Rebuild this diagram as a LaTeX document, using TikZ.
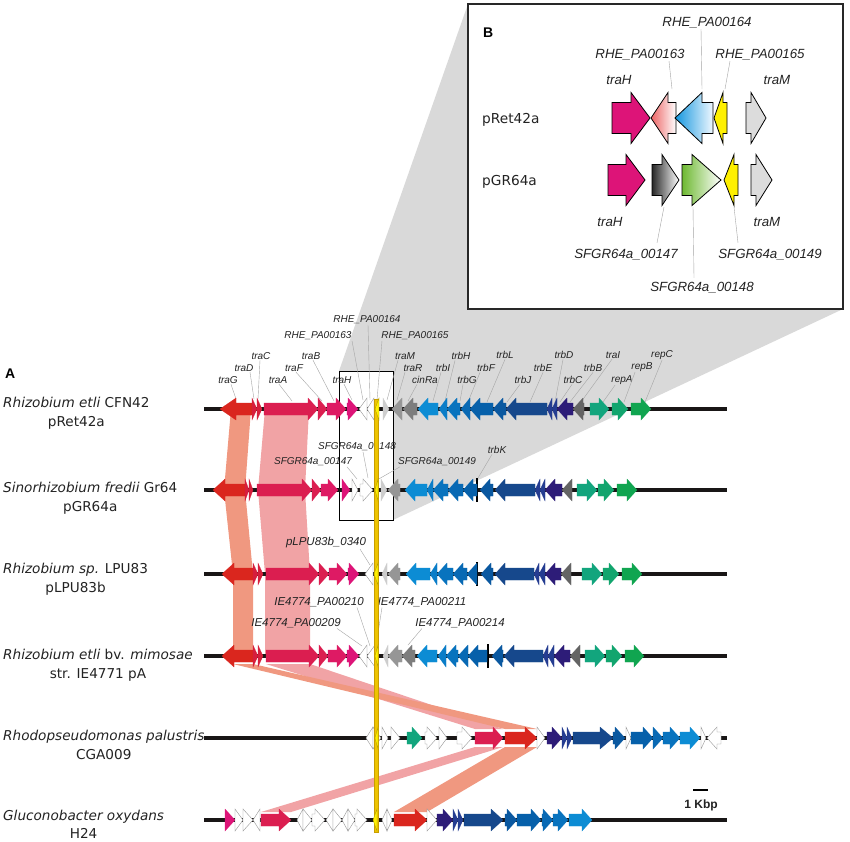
\documentclass[tikz,border=0pt]{standalone}
\usepackage{fontspec}
\setmainfont{DejaVu Sans}
\newfontfamily\ar{Liberation Sans}
\definecolor{cRed}{RGB}{218,38,30}
\definecolor{cRedS}{RGB}{214,30,60}
\definecolor{cCrim}{RGB}{219,30,80}
\definecolor{cCrimB}{RGB}{222,26,100}
\definecolor{cMag}{RGB}{221,20,120}
\definecolor{cYel}{RGB}{255,240,0}
\definecolor{cLG}{RGB}{205,205,205}
\definecolor{cG1}{RGB}{150,150,150}
\definecolor{cG2}{RGB}{125,125,125}
\definecolor{cG3}{RGB}{100,100,100}
\definecolor{cB1}{RGB}{12,140,212}
\definecolor{cB2}{RGB}{10,125,200}
\definecolor{cB3}{RGB}{8,115,190}
\definecolor{cB4}{RGB}{8,105,180}
\definecolor{cB5}{RGB}{6,96,170}
\definecolor{cB6}{RGB}{10,88,160}
\definecolor{cB7}{RGB}{22,72,140}
\definecolor{cB8}{RGB}{36,60,145}
\definecolor{cPur}{RGB}{45,28,120}
\definecolor{cGr1}{RGB}{18,165,125}
\definecolor{cGr2}{RGB}{18,165,110}
\definecolor{cGr3}{RGB}{16,165,80}
\definecolor{cSal}{RGB}{240,152,128}
\definecolor{cPink}{RGB}{241,163,165}
\definecolor{cWedge}{RGB}{217,217,217}
\definecolor{cGold}{RGB}{238,196,0}
\definecolor{cGoldE}{RGB}{200,158,0}
\definecolor{cTxt}{RGB}{35,35,35}
\definecolor{cWEdge}{RGB}{150,150,150}
\definecolor{cYEdge}{RGB}{170,150,0}
\definecolor{cRow}{RGB}{25,22,22}
\definecolor{cLead}{RGB}{165,165,165}
\definecolor{cFrame}{RGB}{40,40,40}
\definecolor{cIPink}{RGB}{236,100,100}
\definecolor{cIBlue}{RGB}{20,150,222}
\definecolor{cIBlueW}{RGB}{240,248,255}
\definecolor{cIDark}{RGB}{40,40,40}
\definecolor{cIGreen}{RGB}{110,185,50}
\definecolor{cILG}{RGB}{220,220,220}
\tikzset{
  gf/.style={fill=#1, draw=#1, line width=0.2pt},
  gw/.style={fill=white, draw=cWEdge, line width=0.4pt},
  gy/.style={fill=cYel, draw=cYEdge, line width=0.3pt},
  rowline/.style={line width=4.3pt, draw=cRow},
  barline/.style={line width=2.4pt, draw=black},
  leader/.style={draw=cLead, line width=0.4pt},
  lab/.style={font=\ar\itshape\fontsize{10}{12}\selectfont, inner sep=0.5pt, text=cTxt},
  labM/.style={font=\ar\itshape\fontsize{11.5}{13}\selectfont, inner sep=0.5pt, text=cTxt},
  labI/.style={font=\ar\itshape\fontsize{13.3}{15}\selectfont, inner sep=0.5pt, text=cTxt},
  org/.style={font=\fontsize{13.6}{16}\selectfont, inner sep=0pt, text=cTxt},
  ib/.style={draw=black, line width=0.8pt},
}
\newcommand\genepath[7]{\path[#1] (#2,#5-#6) -- (#4,#5-#6) -- (#4,#5-#7) -- (#3,#5) -- (#4,#5+#7) -- (#4,#5+#6) -- (#2,#5+#6) -- cycle;}
\newcommand\gR[5][10]{\pgfmathsetmacro\ghb{max(#3,#4-#1)}\genepath{#2}{#3}{#4}{\ghb}{#5}{6}{11}}
\newcommand\gL[5][10]{\pgfmathsetmacro\ghb{min(#4,#3+#1)}\genepath{#2}{#4}{#3}{\ghb}{#5}{6}{11}}
\newcommand\ig[5]{\genepath{#1}{#2}{#3}{#4}{#5}{15.5}{25.5}}
\newcommand\glab[8]{\node[#1] (#2) at (#3,#4) {#5}; \draw[leader] ([xshift=#6pt]#2.south) -- (#7,#8);}
\begin{document}
\begin{tikzpicture}[x=1pt,y=-1pt]
\useasboundingbox[fill=white] (0,0) rectangle (850,841);
% zoom wedge and inset frame
\fill[cWedge] (339,371) -- (468,4) -- (843,4) -- (843,309) -- (393,520) -- (393,371) -- cycle;
\draw[line width=1.5pt, draw=cFrame, fill=white] (468,4) rectangle (843,309);
% homology bands
\fill[cSal] (231,409) -- (224,490) -- (233,574) -- (233,656) -- (253,656) -- (253,574) -- (245,490) -- (251,409) -- cycle;
\fill[cPink] (265,409) -- (258,490) -- (265,574) -- (265,656) -- (310,656) -- (310,574) -- (305,490) -- (309,409) -- cycle;
\fill[cPink] (266,664) -- (310,664) -- (503,729) -- (475,729) -- cycle;
\fill[cSal] (233,664) -- (253,664) -- (537,729) -- (505,729) -- cycle;
\fill[cPink] (475,747) -- (503,747) -- (291,812) -- (261,812) -- cycle;
\fill[cSal] (505,747) -- (537,747) -- (427,812) -- (394,812) -- cycle;
% zoom rectangle
\draw[line width=0.8pt] (339,371) rectangle (393,520);
% backbones
\foreach \yy in {409,490,574,656,738,820} \draw[rowline] (204,\yy) -- (727,\yy);
\draw[barline] (477,478) -- (477,502);
\draw[barline] (477,562) -- (477,586);
\draw[barline] (488,644) -- (488,668);
% labels row 1
\glab{lab}{lTraG}{228}{380}{traG}{3}{236}{399}
\glab{lab}{lTraD}{244}{368}{traD}{6}{254}{399}
\glab{lab}{lTraC}{261}{356}{traC}{-1}{258}{399}
\glab{lab}{lTraA}{278}{380}{traA}{1}{292}{401}
\glab{lab}{lTraF}{294}{368}{traF}{2}{322}{401}
\glab{lab}{lTraB}{311}{356}{traB}{2}{334}{401}
\glab{lab}{lTraH}{342}{380}{traH}{2}{352}{400}
\glab{lab}{lR163}{318}{336}{RHE\_PA00163}{34}{363}{400}
\glab{lab}{lR164}{367}{320}{RHE\_PA00164}{1}{370}{400}
\glab{lab}{lR165}{415}{336}{RHE\_PA00165}{-33}{377}{400}
\glab{lab}{lTraM}{405}{356}{traM}{-7}{387}{400}
\glab{lab}{lTraR}{413}{368}{traR}{-8}{397}{400}
\glab{lab}{lCin}{425}{380}{cinRa}{-8}{408}{401}
\glab{lab}{lTrbH}{461}{356}{trbH}{-6}{445}{401}
\glab{lab}{lTrbI}{443}{368}{trbI}{-2}{433}{401}
\glab{lab}{lTrbG}{467}{380}{trbG}{-4}{460}{401}
\glab{lab}{lTrbF}{486}{368}{trbF}{-6}{468}{402}
\glab{lab}{lTrbL}{505}{355}{trbL}{0}{487}{402}
\glab{lab}{lTrbJ}{523}{380}{trbJ}{-3}{507}{402}
\glab{lab}{lTrbE}{543}{368}{trbE}{0}{530}{402}
\glab{lab}{lTrbD}{564}{355}{trbD}{-1}{555}{402}
\glab{lab}{lTrbC}{573}{380}{trbC}{-1}{560}{402}
\glab{lab}{lTrbB}{593}{368}{trbB}{0}{570}{402}
\glab{lab}{lTraI}{613}{355}{traI}{-1}{581}{402}
\glab{lab}{lRepA}{622}{380}{repA}{-7}{603}{402}
\glab{lab}{lRepB}{642}{367}{repB}{-7}{624}{402}
\glab{lab}{lRepC}{662}{355}{repC}{0}{645}{402}
% labels row 2
\glab{lab}{lS148}{357}{447}{SFGR64a\_00148}{6}{368}{478}
\glab{lab}{lS147}{313}{462}{SFGR64a\_00147}{34}{357}{479}
\glab{lab}{lS149}{437}{462}{SFGR64a\_00149}{-37}{377}{480}
\glab{lab}{lTrbK}{497}{450}{trbK}{-5}{478}{478}
% labels row 3 and 4
\glab{labM}{lP340}{326}{543}{pLPU83b\_0340}{34}{370}{565}
\glab{labM}{lI210}{319}{602}{IE4774\_PA00210}{38}{370}{646}
\glab{labM}{lI211}{422}{602}{IE4774\_PA00211}{-40}{376}{646}
\glab{labM}{lI209}{296}{623}{IE4774\_PA00209}{41}{362}{646}
\glab{labM}{lI214}{460}{623}{IE4774\_PA00214}{-38}{408}{645}
% ---------- row 1
\gL[16]{gf=cRed}{220}{252}{409}
\gR{gf=cRedS}{252}{257}{409}
\gR{gf=cRedS}{257}{262}{409}
\gR{gf=cCrim}{264}{318}{409}
\gR{gf=cCrim}{318}{327}{409}
\gR{gf=cCrimB}{327}{346}{409}
\gR{gf=cMag}{347}{358}{409}
\gL{gw}{359}{367}{409}
\gL{gw}{367}{374}{409}
\gR{gf=cLG}{383}{389}{409}
\gL{gf=cG1}{392}{402}{409}
\gL{gf=cG2}{403}{417}{409}
\gL{gf=cB1}{418}{438}{409}
\gL{gf=cB2}{439}{447}{409}
\gL{gf=cB3}{447}{460}{409}
\gL{gf=cB4}{461}{470}{409}
\gL{gf=cB5}{470}{493}{409}
\gL{gf=cB6}{493}{506}{409}
\gL{gf=cB7}{506}{547}{409}
\gL{gf=cB8}{547}{552}{409}
\gL{gf=cB8}{552}{557}{409}
\gL{gf=cPur}{557}{573}{409}
\gL{gf=cG3}{573}{584}{409}
\gR{gf=cGr1}{590}{609}{409}
\gR{gf=cGr2}{612}{628}{409}
\gR{gf=cGr3}{631}{651}{409}
% ---------- row 2
\gL[12]{gf=cRed}{213}{245}{490}
\gR{gf=cRedS}{245}{249}{490}
\gR{gf=cRedS}{249}{253}{490}
\gR{gf=cCrim}{257}{312}{490}
\gR{gf=cCrim}{312}{321}{490}
\gR{gf=cCrimB}{321}{338}{490}
\gR{gf=cMag}{342}{350}{490}
\gR{gw}{352}{358}{490}
\gR{gw}{360}{373}{490}
\gR{gf=cLG}{381}{387}{490}
\gL{gf=cG1}{388}{400}{490}
\gL{gf=cB1}{405}{427}{490}
\gL{gf=cB2}{427}{433}{490}
\gL{gf=cB3}{433}{448}{490}
\gL{gf=cB4}{448}{463}{490}
\gL{gf=cB5}{463}{477}{490}
\gL{gf=cB6}{480}{493}{490}
\gL{gf=cB7}{495}{535}{490}
\gL{gf=cB8}{535}{540}{490}
\gL{gf=cB8}{540}{545}{490}
\gL{gf=cPur}{545}{562}{490}
\gL{gf=cG3}{562}{572}{490}
\gR{gf=cGr1}{577}{597}{490}
\gR{gf=cGr2}{598}{614}{490}
\gR{gf=cGr3}{617}{637}{490}
% ---------- row 3
\gL[12]{gf=cRed}{222}{253}{574}
\gR{gf=cRedS}{253}{258}{574}
\gR{gf=cRedS}{258}{263}{574}
\gR{gf=cCrim}{266}{319}{574}
\gR{gf=cCrim}{319}{329}{574}
\gR{gf=cCrimB}{329}{347}{574}
\gR{gf=cMag}{348}{359}{574}
\gL{gw}{365}{373}{574}
\gL{gf=cLG}{382}{387}{574}
\gL{gf=cG1}{388}{400}{574}
\gL{gf=cB1}{406}{430}{574}
\gL{gf=cB2}{430}{437}{574}
\gL{gf=cB3}{437}{453}{574}
\gL{gf=cB4}{453}{467}{574}
\gL{gf=cB5}{467}{477}{574}
\gL{gf=cB6}{481}{493}{574}
\gL{gf=cB7}{495}{534}{574}
\gL{gf=cB8}{534}{539}{574}
\gL{gf=cB8}{539}{545}{574}
\gL{gf=cPur}{545}{561}{574}
\gL{gf=cG3}{561}{571}{574}
\gR{gf=cGr1}{582}{602}{574}
\gR{gf=cGr2}{603}{619}{574}
\gR{gf=cGr3}{622}{642}{574}
% ---------- row 4
\gL[12]{gf=cRed}{222}{253}{656}
\gR{gf=cRedS}{253}{258}{656}
\gR{gf=cRedS}{258}{263}{656}
\gR{gf=cCrim}{266}{319}{656}
\gR{gf=cCrim}{319}{328}{656}
\gR{gf=cCrimB}{328}{347}{656}
\gR{gf=cMag}{347}{359}{656}
\gL{gw}{359}{367}{656}
\gL{gw}{367}{375}{656}
\gL{gf=cLG}{383}{388}{656}
\gL{gf=cG1}{388}{402}{656}
\gL{gf=cG2}{402}{415}{656}
\gL{gf=cB1}{417}{437}{656}
\gL{gf=cB2}{438}{446}{656}
\gL{gf=cB3}{446}{458}{656}
\gL{gf=cB4}{458}{468}{656}
\gL{gf=cB5}{468}{487}{656}
\gL{gf=cB6}{492}{503}{656}
\gL{gf=cB7}{504}{543}{656}
\gL{gf=cB8}{543}{548}{656}
\gL{gf=cB8}{548}{554}{656}
\gL{gf=cPur}{554}{570}{656}
\gL{gf=cG3}{570}{580}{656}
\gR{gf=cGr1}{585}{605}{656}
\gR{gf=cGr2}{606}{622}{656}
\gR{gf=cGr3}{625}{644}{656}
% ---------- row 5
\gL{gw}{366}{373}{738}
\gR{gw}{373}{381}{738}
\gR{gw}{382}{388}{738}
\gR{gw}{391}{400}{738}
\gR{gf=cGr1}{407}{422}{738}
\gR{gw}{425}{437}{738}
\gR{gw}{439}{447}{738}
\gR{gw}{457}{472}{738}
\gR{gf=cCrim}{475}{503}{738}
\gR[12]{gf=cRed}{505}{537}{738}
\gR{gw}{537}{545}{738}
\gR{gf=cPur}{547}{562}{738}
\gR{gf=cB8}{562}{567}{738}
\gR{gf=cB8}{567}{572}{738}
\gR[13]{gf=cB7}{573}{613}{738}
\gR{gf=cB6}{613}{625}{738}
\gR{gw}{626}{631}{738}
\gR{gf=cB5}{631}{653}{738}
\gR{gf=cB4}{653}{663}{738}
\gR{gf=cB3}{663}{680}{738}
\gR{gf=cB1}{680}{700}{738}
\gR{gw}{701}{706}{738}
\gL{gw}{707}{721}{738}
% ---------- row 6
\gR{gf=cMag}{225}{235}{820}
\gR{gw}{235}{243}{820}
\gR{gw}{243}{253}{820}
\gL{gw}{253}{260}{820}
\gR[12]{gf=cCrim}{261}{291}{820}
\gL{gw}{297}{303}{820}
\gR{gw}{303}{312}{820}
\gR{gw}{312}{325}{820}
\gL{gw}{326}{333}{820}
\gR{gw}{333}{342}{820}
\gL{gw}{342}{348}{820}
\gR{gw}{348}{355}{820}
\gR{gw}{355}{367}{820}
\gL{gw}{382}{387}{820}
\gR{gw}{387}{392}{820}
\gR[12]{gf=cRed}{394}{427}{820}
\gR{gw}{427}{437}{820}
\gR{gf=cPur}{437}{453}{820}
\gR{gf=cB8}{453}{458}{820}
\gR{gf=cB8}{458}{463}{820}
\gR[12]{gf=cB7}{464}{503}{820}
\gR{gf=cB6}{505}{517}{820}
\gR{gf=cB5}{517}{541}{820}
\gR{gf=cB4}{542}{553}{820}
\gR{gf=cB3}{553}{568}{820}
\gR{gf=cB1}{569}{592}{820}
% gold line and yellow genes
\path[fill=cGold, draw=cGoldE, line width=0.4pt] (374,399) rectangle (378,832);
\gL{gy}{375}{379}{409}
\gL{gy}{375}{378}{490}
\gL{gy}{374}{378}{574}
\gL{gy}{375}{378}{656}
\gL{gy}{375}{378}{738}
\gL{gy}{373}{377}{820}
% scale bar
\draw[line width=2.5pt] (693,790) -- (708,790);
\node[font=\ar\bfseries\fontsize{12}{14}\selectfont, text=cTxt] (kbp) at (701,805) {1 Kbp};
% organism labels
\node[font=\ar\bfseries\fontsize{14}{16}\selectfont, anchor=base west, inner sep=0pt] (pA) at (5,378) {A};
\node[org, anchor=base west] (o1) at (3,407) {\textit{Rhizobium etli} CFN42};
\node[org, anchor=base] (o1b) at ([yshift=-19pt]o1.base) {pRet42a};
\node[org, anchor=base west] (o2) at (3,492) {\textit{Sinorhizobium fredii} Gr64};
\node[org, anchor=base] (o2b) at ([yshift=-19pt]o2.base) {pGR64a};
\node[org, anchor=base west] (o3) at (3,573) {\textit{Rhizobium sp.} LPU83};
\node[org, anchor=base] (o3b) at ([yshift=-19pt]o3.base) {pLPU83b};
\node[org, anchor=base west] (o4) at (3,659) {\textit{Rhizobium etli} bv. \textit{mimosae}};
\node[org, anchor=base] (o4b) at ([yshift=-19pt]o4.base) {str. IE4771 pA};
\node[org, anchor=base west] (o5) at (3,740) {\textit{Rhodopseudomonas palustris}};
\node[org, anchor=base] (o5b) at ([yshift=-19pt]o5.base) {CGA009};
\node[org, anchor=base west] (o6) at (3,820) {\textit{Gluconobacter oxydans}};
\node[org, anchor=base] (o6b) at ([yshift=-18pt]o6.base) {H24};
% ---------- inset B
\node[font=\ar\bfseries\fontsize{14}{16}\selectfont, anchor=base west, inner sep=0pt] (pB) at (483,37) {B};
\node[org, font=\fontsize{13.7}{16}\selectfont, anchor=base west] (iR) at (482,123) {pRet42a};
\node[org, font=\fontsize{13.7}{16}\selectfont, anchor=base west] (iG) at (482,185) {pGR64a};
\node[labI] (iTraH1) at (619,80) {traH};
\node[labI] (iTraM1) at (777,80) {traM};
\node[labI] (iTraH2) at (610,222) {traH};
\node[labI] (iTraM2) at (767,222) {traM};
\node[labI] (i163) at (640,55) {RHE\_PA00163};
\node[labI] (i164) at (707,23) {RHE\_PA00164};
\node[labI] (i165) at (760,55) {RHE\_PA00165};
\node[labI] (i147) at (626,255) {SFGR64a\_00147};
\node[labI] (i148) at (702,288) {SFGR64a\_00148};
\node[labI] (i149) at (770,255) {SFGR64a\_00149};
\draw[leader] ([xshift=29pt]i163.south) -- (672,89);
\draw[leader] ([xshift=-6pt]i164.south) -- (702,89);
\draw[leader] ([xshift=-30pt]i165.south) -- (725,89);
\draw[leader] ([xshift=31pt,yshift=6pt]i147.north) -- (664,207);
\draw[leader] ([xshift=-8pt,yshift=4pt]i148.north) -- (693,207);
\draw[leader] ([xshift=-32pt,yshift=6pt]i149.north) -- (734,207);
\ig{ib, fill=cMag}{612}{650}{631}{118}
\ig{ib, left color=cIPink, right color=white}{676}{651}{668}{118}
\ig{ib, left color=cIBlue, right color=cIBlueW}{713}{675}{702}{118}
\ig{ib, fill=cYel}{727}{714}{723}{118}
\ig{ib, fill=cILG}{746}{766}{751}{118}
\ig{ib, fill=cMag}{608}{645}{626}{180}
\ig{ib, left color=cIDark, right color=white}{652}{679}{662}{180}
\ig{ib, left color=cIGreen, right color=white}{682}{721}{692}{180}
\ig{ib, fill=cYel}{738}{724}{734}{180}
\ig{ib, fill=cILG}{751}{772}{756}{180}
\end{tikzpicture}
\end{document}
